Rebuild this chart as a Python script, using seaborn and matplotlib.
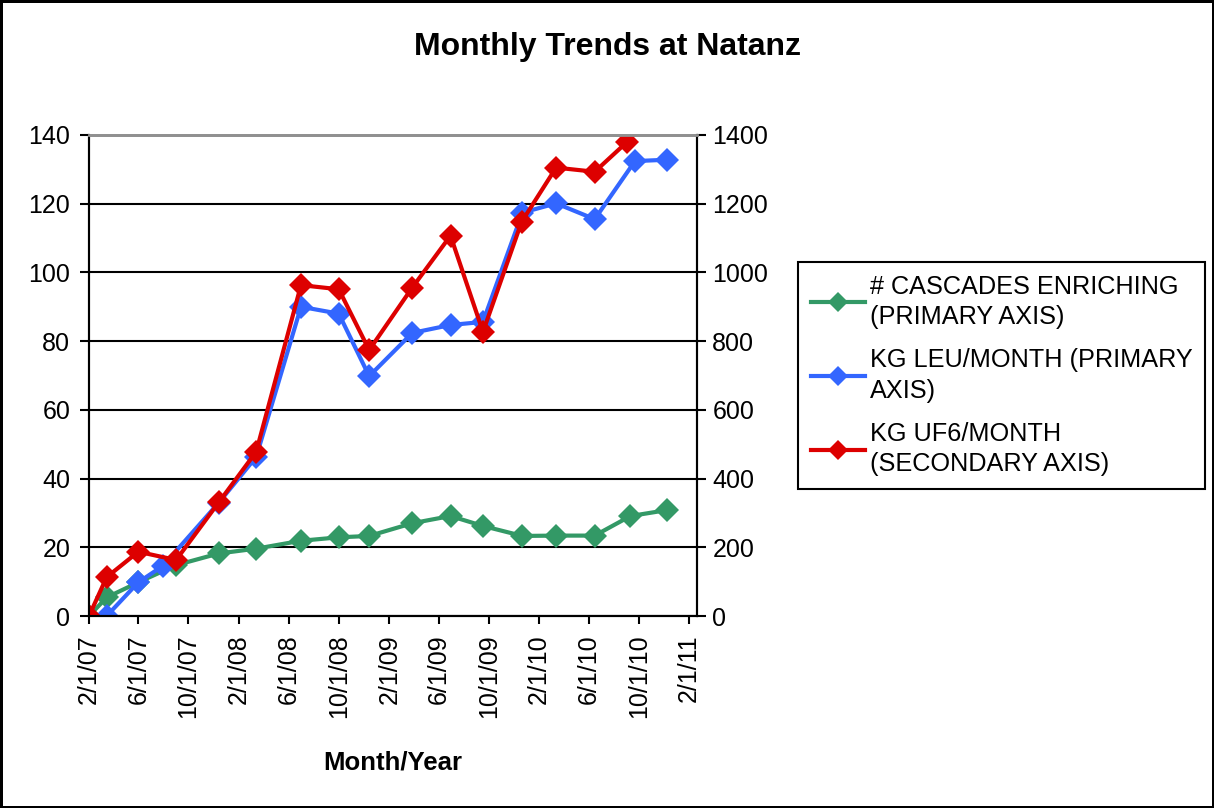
import matplotlib
matplotlib.use("Agg")
import matplotlib.pyplot as plt
import seaborn as sns
import pandas as pd

# ---- data ----
cascade_dates = ["2007-02-01", "2007-03-16", "2007-06-01", "2007-09-01", "2007-12-14",
                 "2008-03-14", "2008-07-01", "2008-10-01", "2008-12-14", "2009-03-29",
                 "2009-06-30", "2009-09-17", "2009-12-22", "2010-03-14", "2010-06-16",
                 "2010-09-11", "2010-12-08"]
cascades = [0, 5.4, 9.8, 14.8, 18.2, 19.6, 21.9, 22.9, 23.3, 27.0,
            29.1, 26.2, 23.3, 23.4, 23.4, 29.1, 30.8]

leu_dates = ["2007-03-16", "2007-06-01", "2007-07-31", "2007-12-14", "2008-03-14",
             "2008-07-01", "2008-10-01", "2008-12-14", "2009-03-29", "2009-06-30",
             "2009-09-17", "2009-12-22", "2010-03-14", "2010-06-16", "2010-09-22",
             "2010-12-08"]
leu = [0, 9.8, 14.6, 33, 46.3, 90, 88, 69.8, 82.4, 84.7,
       85.6, 117.4, 120.1, 115.5, 132.4, 132.8]

uf6_dates = ["2007-02-01", "2007-03-16", "2007-06-01", "2007-09-01", "2007-12-14",
             "2008-03-14", "2008-07-01", "2008-10-01", "2008-12-14", "2009-03-29",
             "2009-06-30", "2009-09-17", "2009-12-20", "2010-03-14", "2010-06-16",
             "2010-09-03"]
uf6 = [0, 113, 187, 163, 331, 478, 963, 951, 774, 956,
       1107, 827, 1147, 1305, 1293, 1380]

x_tick_labels = ["2/1/07", "6/1/07", "10/1/07", "2/1/08", "6/1/08", "10/1/08", "2/1/09",
                 "6/1/09", "10/1/09", "2/1/10", "6/1/10", "10/1/10", "2/1/11"]

labels = ["# CASCADES ENRICHING\n(PRIMARY AXIS)",
          "KG LEU/MONTH (PRIMARY\nAXIS)",
          "KG UF6/MONTH\n(SECONDARY AXIS)"]

green = "#339966"
blue = "#3366FF"
red = "#DD0000"

plt.rcParams["font.family"] = ["Liberation Sans", "DejaVu Sans"]

df_c = pd.DataFrame({"date": pd.to_datetime(cascade_dates), "v": cascades})
df_l = pd.DataFrame({"date": pd.to_datetime(leu_dates), "v": leu})
df_u = pd.DataFrame({"date": pd.to_datetime(uf6_dates), "v": uf6})

W, H = 1214, 808
fig = plt.figure(figsize=(W / 100, H / 100), dpi=100)
fig.patch.set_edgecolor("black")
fig.patch.set_linewidth(2.5)
ax = fig.add_axes([89 / W, 1 - 616 / H, (697 - 89) / W, (616 - 135) / H])
ax2 = ax.twinx()

lkw = dict(marker="D", markersize=12, linewidth=3, markeredgewidth=0)
sns.lineplot(data=df_c, x="date", y="v", ax=ax, color=green, label=labels[0], **lkw)
sns.lineplot(data=df_l, x="date", y="v", ax=ax, color=blue, label=labels[1], **lkw)
sns.lineplot(data=df_u, x="date", y="v", ax=ax2, color=red, label=labels[2], **lkw)

TICK_FS = 18
ax.set_ylim(0, 140)
ax2.set_ylim(0, 1400)
ax.set_yticks(range(0, 141, 20))
ax2.set_yticks(range(0, 1401, 200))
tick_dates = pd.to_datetime(x_tick_labels, format="%m/%d/%y")
ax.set_xlim(pd.Timestamp("2007-02-01"), pd.Timestamp("2011-02-20"))
ax.set_xticks(tick_dates)
ax.set_xticklabels(x_tick_labels, rotation=90, fontsize=TICK_FS)

ax.grid(axis="y", color="black", linewidth=1.5)
ax.set_axisbelow(True)
ax.set_xlabel("Month/Year", fontsize=18.5, fontweight="bold")
ax.xaxis.set_label_coords(0.5, -(762 - 616) / (616 - 135))
ax.xaxis.label.set_va("center")
ax.set_ylabel("")
ax2.set_ylabel("")
ax.tick_params(axis="y", labelsize=TICK_FS, length=6.5, width=1.5, direction="out", pad=7)
ax2.tick_params(axis="y", labelsize=TICK_FS, length=6.5, width=1.5, direction="out", pad=4.5)
ax.tick_params(axis="x", length=5.5, width=1.5, direction="out", pad=8)

for a in (ax, ax2):
    for s in ("left", "right", "bottom"):
        a.spines[s].set_color("black")
        a.spines[s].set_linewidth(1.5)
    a.spines["top"].set_color("#909090")
    a.spines["top"].set_linewidth(2)

ax.get_legend().remove()
ax2.get_legend().remove()
h1, l1 = ax.get_legend_handles_labels()
h2, l2 = ax2.get_legend_handles_labels()
leg = fig.legend(h1 + h2, l1 + l2, loc="upper left",
                 bbox_to_anchor=(798 / W, 1 - 262 / H), fontsize=18.2,
                 frameon=True, fancybox=False, edgecolor="black", framealpha=1,
                 handlelength=2.15, labelspacing=0.78, borderpad=0.5,
                 handletextpad=0.2, borderaxespad=0, markerscale=0.85)
for t in leg.get_texts():
    t.set_linespacing(1.32)
leg.get_frame().set_linewidth(1.5)

fig.text(607 / W, 1 - 47 / H, "Monthly Trends at Natanz", ha="center", va="center",
         fontsize=23, fontweight="bold")

fig.savefig("out.png", dpi=100, edgecolor=fig.get_edgecolor())
